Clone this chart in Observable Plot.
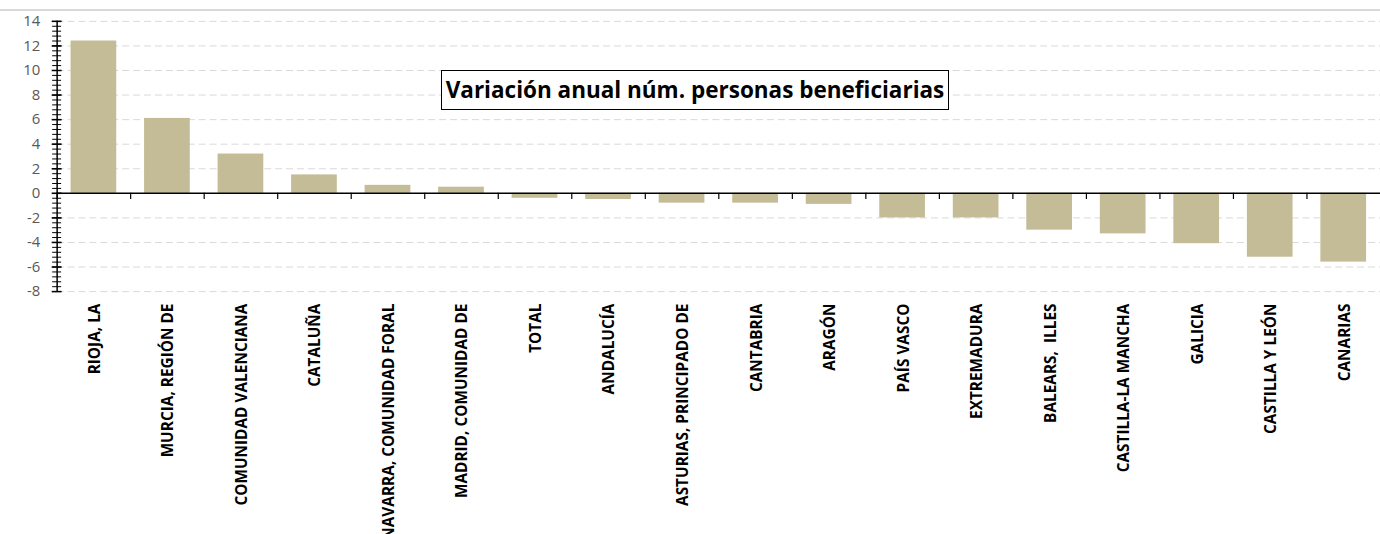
<!DOCTYPE html>
<html>
<head>
<meta charset="utf-8">
<script src="https://cdn.jsdelivr.net/npm/d3@7"></script>
<script src="https://cdn.jsdelivr.net/npm/@observablehq/plot@0.6"></script>
<style>
  html, body { margin: 0; padding: 0; background: #fff; overflow: hidden; width: 1380px; height: 534px; }
  #wrap { position: relative; width: 1380px; height: 534px; overflow: hidden; }
  #topline { position: absolute; left: 0; top: 9px; width: 1380px; height: 2px; background: #d9d9d9; }
  #title { position: absolute; left: 441px; top: 70px; width: 508px; height: 40px; box-sizing: border-box;
    border: 1px solid #000; background: #fff; font-family: "Open Sans", Lato, sans-serif; font-weight: bold;
    font-size: 22.5px; line-height: 38px; text-align: center; color: #000; white-space: nowrap; }
  svg { display: block; }
</style>
</head>
<body>
<div id="wrap">
  <div id="topline"></div>
  <div id="chart"></div>
  <div id="title">Variación anual núm. personas beneficiarias</div>
</div>
<script>
const categories = [
  "RIOJA, LA", "MURCIA, REGIÓN DE", "COMUNIDAD VALENCIANA", "CATALUÑA",
  "NAVARRA, COMUNIDAD FORAL", "MADRID, COMUNIDAD DE", "TOTAL", "ANDALUCÍA",
  "ASTURIAS, PRINCIPADO DE", "CANTABRIA", "ARAGÓN", "PAÍS VASCO",
  "EXTREMADURA", "BALEARS,  ILLES", "CASTILLA-LA MANCHA", "GALICIA",
  "CASTILLA Y LEÓN", "CANARIAS"
];
const values = [12.4, 6.1, 3.2, 1.5, 0.65, 0.5, -0.4, -0.5, -0.8, -0.8, -0.9, -2.0, -2.0, -3.0, -3.3, -4.1, -5.2, -5.6];
const yTickValues = [-8, -6, -4, -2, 0, 2, 4, 6, 8, 10, 12, 14];
const yMinorTicks = d3.range(-8, 14.001, 0.4);

const data = categories.map((name, i) => ({name, value: values[i]}));

const W = 1389, ML = 57;
const half = (W - ML) / categories.length / 2;

const chart = Plot.plot({
  width: W,
  height: 534,
  marginLeft: ML,
  marginRight: 0,
  marginTop: 21,
  marginBottom: 241,
  x: {domain: categories, paddingInner: 0.378, paddingOuter: 0.189, axis: null},
  y: {domain: [-8, 14], axis: null},
  style: {fontFamily: "'Open Sans', Lato, sans-serif", background: "transparent", overflow: "visible"},
  marks: [
    Plot.ruleY(yTickValues.filter(v => v !== 0), {stroke: "#d9d9d9", strokeWidth: 1, strokeDasharray: "7,4"}),
    Plot.barY(data, {x: "name", y: "value", fill: "#c4bc96"}),
    Plot.ruleY([0], {stroke: "#000", strokeWidth: 1.5}),
    Plot.ruleX(categories, {x: d => d, y1: 0, y2: -0.5, dx: -half, stroke: "#000", strokeWidth: 1.2}),
    Plot.ruleX([categories[0]], {x: d => d, y1: -8, y2: 14, dx: -half, stroke: "#000", strokeWidth: 1.5}),
    Plot.axisY({ticks: yMinorTicks, tickSize: 9, dx: 4.5, text: null, label: null, stroke: "#000", strokeWidth: 1}),
    Plot.axisY({ticks: yTickValues, tickSize: 10, dx: 5, text: null, label: null, stroke: "#000", strokeWidth: 1.5}),
    Plot.axisY({ticks: yTickValues, tickSize: 0, tickPadding: 17, label: null, fontSize: 15, fill: "#595959", tickFormat: d => String(d)}),
    Plot.text(data, {x: "name", y: -8, dy: 12, dx: 1, rotate: -90, text: "name", textAnchor: "end", lineAnchor: "middle",
      fontSize: 15.5, fontWeight: "bold", fill: "#000"})
  ]
});
document.getElementById("chart").appendChild(chart);
</script>
</body>
</html>
